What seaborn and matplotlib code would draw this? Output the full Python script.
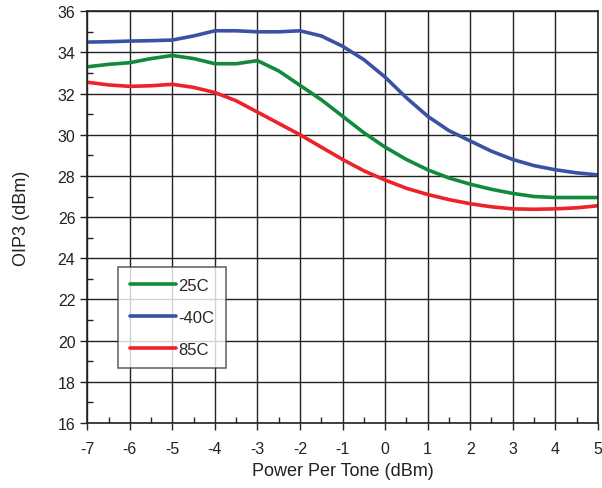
import matplotlib
matplotlib.use("Agg")
import matplotlib.pyplot as plt
import matplotlib.ticker as ticker
import pandas as pd
import seaborn as sns

power = [-7, -6.5, -6, -5.5, -5, -4.5, -4, -3.5, -3, -2.5, -2, -1.5, -1, -0.5,
         0, 0.5, 1, 1.5, 2, 2.5, 3, 3.5, 4, 4.5, 5]
oip3_25c = [33.3, 33.42, 33.5, 33.7, 33.85, 33.7, 33.45, 33.45, 33.6, 33.1, 32.4, 31.7, 30.9, 30.1,
            29.4, 28.8, 28.3, 27.9, 27.6, 27.35, 27.15, 27.0, 26.95, 26.95, 26.95]
oip3_m40c = [34.5, 34.52, 34.55, 34.57, 34.6, 34.8, 35.05, 35.05, 35.0, 35.0, 35.05, 34.8, 34.3, 33.65,
             32.8, 31.8, 30.9, 30.2, 29.7, 29.2, 28.8, 28.5, 28.3, 28.15, 28.05]
oip3_85c = [32.55, 32.42, 32.35, 32.38, 32.45, 32.3, 32.05, 31.65, 31.1, 30.55, 30.0, 29.4, 28.8, 28.25,
            27.8, 27.4, 27.1, 26.85, 26.65, 26.5, 26.4, 26.38, 26.4, 26.45, 26.55]

series = {"25C": oip3_25c, "-40C": oip3_m40c, "85C": oip3_85c}
colors = {"25C": "#128a3c", "-40C": "#3a52a4", "85C": "#ee2229"}

rows = []
for name, vals in series.items():
    for p, v in zip(power, vals):
        rows.append({"Power": p, "OIP3": v, "Temp": name})
df = pd.DataFrame(rows)

sns.set_style("ticks")
plt.rcParams['font.family'] = ['Liberation Sans', 'DejaVu Sans']
plt.rcParams['axes.unicode_minus'] = False

fig, ax = plt.subplots(figsize=(6.02, 4.89), dpi=100)
fig.subplots_adjust(left=0.145, right=0.993, top=0.975, bottom=0.133)

sns.lineplot(data=df, x="Power", y="OIP3", hue="Temp", palette=colors,
             linewidth=2.6, ax=ax, legend=True)

ax.set_xlim(-7, 5)
ax.set_ylim(16, 36)
ax.xaxis.set_major_locator(ticker.MultipleLocator(1))
ax.xaxis.set_minor_locator(ticker.MultipleLocator(0.5))
ax.yaxis.set_major_locator(ticker.MultipleLocator(2))
ax.yaxis.set_minor_locator(ticker.MultipleLocator(1))
ax.grid(True, which="major", color="#222222", linewidth=1.0)
ax.set_axisbelow(True)
for s in ax.spines.values():
    s.set_color("#222222")
    s.set_linewidth(1.2)
ax.tick_params(which="both", bottom=True, left=True, top=False, right=False)
ax.tick_params(which="major", direction="out", length=5, width=1, labelsize=11.5,
               color="#222222", labelcolor="#222222")
ax.tick_params(axis="x", which="major", pad=8)
ax.tick_params(which="minor", direction="in", length=4, width=1, color="#222222")
ax.set_xlabel("Power Per Tone (dBm)", fontsize=13, color="#222222", labelpad=4)
ax.set_ylabel("OIP3 (dBm)", fontsize=13, color="#222222", labelpad=20)

leg = ax.legend(loc="lower left", bbox_to_anchor=(0.06, 0.133), frameon=True,
                fancybox=False, handlelength=2.8, handletextpad=0.1,
                labelspacing=1.0, borderpad=0.7, borderaxespad=0,
                fontsize=12, title=None)
leg.get_frame().set_edgecolor("#444444")
leg.get_frame().set_linewidth(1.2)
for line in leg.get_lines():
    line.set_linewidth(2.6)

fig.savefig("out.png", dpi=100)
